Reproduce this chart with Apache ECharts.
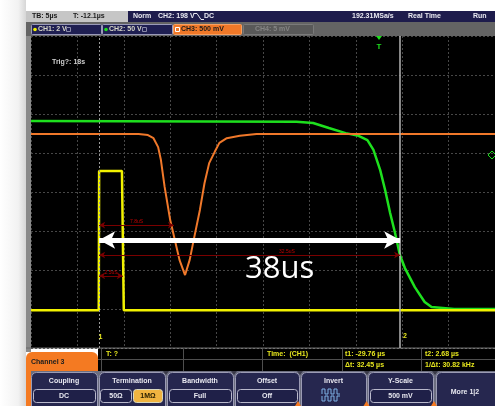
<!DOCTYPE html>
<html><head><meta charset="utf-8">
<script src="https://cdn.jsdelivr.net/npm/echarts@6/dist/echarts.min.js"></script>
<style>html,body{margin:0;padding:0;background:#fff;}#c{width:495px;height:406px;}</style>
</head><body><div id="c"></div>
<script>
// ---- data (time in µs, amplitude in screen divisions from centre) ----
const timeLeft = -37.1;          // time at left edge of screen (T = -12.1 µs centre, 5 µs/div)
const ch1 = [[-37.1,-3.03],[-29.8,-3.03],[-29.76,0.54],[-27.3,0.54],[-27.1,-3.03],[12.9,-3.03]];
const ch2 = [[-37.1,1.82],[-8.5,1.80],[-6.7,1.77],[-5.0,1.64],[-3.2,1.51],[-1.8,1.44],[-0.85,1.33],[-0.2,1.08],
             [0.53,0.56],[1.06,0.05],[1.6,-0.54],[2.13,-1.05],[2.66,-1.62],[3.19,-1.95],[4.26,-2.44],
             [5.32,-2.82],[6.06,-2.95],[8.5,-3.0],[12.9,-3.0]];
const ch3 = [[-37.1,1.49],[-25.5,1.49],[-24.5,1.46],[-23.9,1.38],[-23.4,1.15],[-23.1,0.82],[-22.7,0.13],
             [-22.1,-0.72],[-21.6,-1.23],[-21.1,-1.74],[-20.5,-2.13],[-20.0,-1.74],[-19.5,-1.15],
             [-18.9,-0.46],[-18.4,0.23],[-17.9,0.74],[-17.3,1.03],[-16.8,1.26],[-16.0,1.38],[-14.6,1.44],
             [-12.8,1.49],[12.9,1.49]];
const cursorT1 = -29.76, cursorT2 = 2.68;
const bigArrowLevel = -1.23, bigArrowText = '38us';
const redMeas = [
  {from:-29.76, to:-21.7, level:-0.85, label:'7.8uS'},
  {from:-29.76, to:2.68, level:-1.615, label:''},
  {from:-29.76, to:-27.2, level:-2.15, label:'2.5uS'}
];

const X = t => +(t - timeLeft).toFixed(3);
const map = arr => arr.map(p => [X(p[0]), p[1]]);

const F = 'bold 7px "Liberation Sans", Arial, sans-serif';
function txt(x, y, s, fill, align, font) {
  return {type:'text', x, y, z:20, style:{text:s, fill:fill||'#fff', font:font||F, align:align||'left', verticalAlign:'middle'}};
}
function rect(x, y, w, h, fill, stroke, r, z) {
  return {type:'rect', z:z||1, shape:{x, y, width:w, height:h, r:r||0}, style:{fill, stroke:stroke||null, lineWidth:stroke?1:0}};
}

const g = [];
// left page strip
g.push({type:'rect', z:0, shape:{x:0,y:0,width:26,height:406}, style:{fill:new echarts.graphic.LinearGradient(0,0,1,0,[{offset:0,color:'#ffffff'},{offset:0.7,color:'#f2f2f2'},{offset:1,color:'#d6d6d6'}])}});
g.push(rect(26, 11, 5, 341, '#8a8a8a'));
// header row 1
g.push(rect(26, 11, 102, 11, '#c6c6c6'));
g.push(rect(128, 11, 367, 11, '#1e1c4c'));
g.push(txt(32, 16.5, 'TB: 5µs', '#1a1a1a'));
g.push(txt(73, 16.5, 'T: -12.1µs', '#1a1a1a'));
g.push(txt(133, 16.5, 'Norm', '#e8e8f0'));
g.push(txt(158, 16.5, 'CH2: 198 V', '#e8e8f0'));
g.push({type:'polyline', z:20, shape:{points:[[194,13.5],[197,13.5],[201,19.5],[204,19.5]]}, style:{stroke:'#e8e8f0', lineWidth:1, fill:null}});
g.push(txt(204, 16.5, 'DC', '#e8e8f0'));
g.push(txt(352, 16.5, '192.31MSa/s', '#e8e8f0'));
g.push(txt(408, 16.5, 'Real Time', '#e8e8f0'));
g.push(txt(473, 16.5, 'Run', '#e8e8f0'));
// header row 2 (channel tabs)
g.push(rect(26, 22, 469, 14, '#646464'));
g.push(rect(31.5, 24.5, 70, 10, '#1f1f52', '#9a9ab8', 1, 2));
g.push({type:'circle', z:20, shape:{cx:35, cy:29.5, r:1.8}, style:{fill:'#f2f200'}});
g.push(txt(38, 29.5, 'CH1: 2 V', '#d8d8c8'));
g.push(rect(66.5, 27.5, 4, 4, null, '#8888a8', 0, 20));
g.push(rect(102.5, 24.5, 70, 10, '#1f1f52', '#9a9ab8', 1, 2));
g.push({type:'circle', z:20, shape:{cx:106, cy:29.5, r:1.8}, style:{fill:'#1ee01e'}});
g.push(txt(109, 29.5, 'CH2: 50 V', '#d8d8c8'));
g.push(rect(142.5, 27.5, 4, 4, null, '#8888a8', 0, 20));
g.push(rect(173.5, 24.5, 68, 10, '#f07828', '#f8a060', 1, 2));
g.push(rect(175.5, 27.5, 4, 4, null, '#ffffff', 0, 20));
g.push(txt(181, 29.5, 'CH3: 500 mV', '#1a1a1a'));
g.push(rect(243.5, 24.5, 70, 10, '#595959', '#7a7a7a', 1, 2));
g.push(txt(255, 29.5, 'CH4: 5 mV', '#858585'));
// plot frame line under grid
g.push(rect(26, 347.5, 469, 1, '#6a6a6a', null, 0, 3));
// measurement panel
g.push(rect(98, 348.5, 397, 22.5, '#000000'));
g.push(rect(98, 359, 397, 1, '#4e4e4e', null, 0, 3));
[101, 183, 262, 342, 421].forEach(x => g.push(rect(x, 348.5, 1, 22.5, '#4e4e4e', null, 0, 3)));
g.push(txt(106, 354, 'T: ?', '#e6e61e'));
g.push(txt(267, 354, 'Time:  (CH1)', '#e6e61e'));
g.push(txt(345, 354, 't1: -29.76 µs', '#e6e61e'));
g.push(txt(425, 354, 't2: 2.68 µs', '#e6e61e'));
g.push(txt(345, 365, 'Δt: 32.45 µs', '#e6e61e'));
g.push(txt(425, 365, '1/Δt: 30.82 kHz', '#e6e61e'));
// channel 3 tab + bottom panel
g.push(rect(26, 352, 72, 54, '#f47a22', null, [6,6,0,0], 2));
g.push(txt(31, 362, 'Channel 3', '#202020'));
g.push(rect(31, 371, 464, 35, '#6c6e80', null, 0, 3));
const buttons = [
  {x:31, w:66, title:'Coupling', val:'DC'},
  {x:99, w:66, title:'Termination', val:null},
  {x:167, w:66, title:'Bandwidth', val:'Full'},
  {x:235, w:64, title:'Offset', val:'Off'},
  {x:301, w:65, title:'Invert', val:null},
  {x:368, w:65, title:'Y-Scale', val:'500 mV'},
  {x:436, w:70, title:null, val:null}
];
buttons.forEach(b => {
  g.push(rect(b.x+0.5, 372.5, b.w, 45, '#26274f', '#9b9bb4', 5, 4));
  if (b.title) g.push(txt(b.x + b.w/2, 381, b.title, '#e8e8f0', 'center'));
  if (b.val) {
    g.push(rect(b.x+2.5, 389.5, b.w-4, 13, '#1f2048', '#b9b9cc', 3, 5));
    g.push(txt(b.x + b.w/2, 396.5, b.val, '#e8e8f0', 'center'));
  }
});
g.push(rect(100.5, 389.5, 31, 13, '#1f2048', '#b9b9cc', 3, 5));
g.push(txt(116, 396.5, '50Ω', '#e8e8f0', 'center'));
g.push(rect(133.5, 389.5, 29, 13, '#f0b440', '#d8d8c0', 3, 5));
g.push(txt(148, 396.5, '1MΩ', '#2a2000', 'center'));
g.push(txt(465, 392, 'More 1|2', '#e8e8f0', 'center'));
// invert icon
g.push({type:'polyline', z:20, shape:{points:[[322,394],[322,389],[325,389],[325,394],[328,394],[328,389],[331,389],[331,394],[334,394],[334,389],[337,389],[337,394],[340,394]]}, style:{stroke:'#7fb2e6', lineWidth:1, fill:null}});
g.push({type:'polyline', z:20, shape:{points:[[322,396],[322,401],[325,401],[325,396],[328,396],[328,401],[331,401],[331,396],[334,396],[334,401],[337,401],[337,396],[340,396]]}, style:{stroke:'#7fb2e6', lineWidth:1, fill:null}});
// small triangles
[298, 366.5, 434].forEach(x => g.push({type:'polygon', z:20, shape:{points:[[x-3,406],[x,401],[x+3,406]]}, style:{fill:'#f47a22'}}));
[166, 234, 300, 367, 435].forEach(x => g.push({type:'polygon', z:20, shape:{points:[[x-3,371],[x+3,371],[x,375]]}, style:{fill:'#3a3a48'}}));
// plot texts / markers
g.push(txt(52, 62, 'Trig?: 18s', '#cfcfcf'));
g.push({type:'polygon', z:20, shape:{points:[[376,36],[382,36],[379,40]]}, style:{fill:'#1ee01e'}});
g.push(txt(379, 47, 'T', '#1ee01e', 'center', 'bold 8px "Liberation Sans", Arial, sans-serif'));
g.push({type:'polygon', z:20, shape:{points:[[492,151],[496,155],[492,159],[488,155]]}, style:{fill:null, stroke:'#1ee01e', lineWidth:1}});
g.push(txt(100.5, 337, '1', '#e6e61e', 'center'));
g.push(txt(405, 336, '2', '#e6e61e', 'center'));
g.push(txt(287, 252, '32.5uS', '#c00000', 'center', '5px "Liberation Sans", Arial, sans-serif'));
g.push(txt(245, 269, bigArrowText, '#ffffff', 'left', '31px "Open Sans", sans-serif'));

const redLines = redMeas.map(m => [
  {coord:[X(m.from), m.level], label:{show: !!m.label, formatter: m.label, position:'insideMiddleTop', color:'#c00000', fontSize:5, distance:1}},
  {coord:[X(m.to), m.level]}
]);

const chart = echarts.init(document.getElementById('c'), null, {renderer:'canvas'});
chart.setOption({
  animation:false,
  backgroundColor:'transparent',
  grid:{left:31, top:36, width:470, height:312, show:true, backgroundColor:'#000', borderWidth:0},
  xAxis:{type:'value', min:0, max:50, interval:5, axisLine:{show:false}, axisTick:{show:false}, axisLabel:{show:false},
         splitLine:{show:true, lineStyle:{color:'#474747', type:[2,2], width:1}}},
  yAxis:{type:'value', min:-4, max:4, interval:1, axisLine:{show:false}, axisTick:{show:false}, axisLabel:{show:false},
         splitLine:{show:true, lineStyle:{color:'#474747', type:[2,2], width:1}}},
  graphic: g,
  series:[
    {type:'line', data:[], z:1, silent:true,
     markLine:{silent:true, symbol:'none', animation:false, label:{show:false},
       data:[
         {xAxis:X(cursorT1), lineStyle:{color:'#9a9a9a', type:[2,2], width:1}},
         {xAxis:X(cursorT2), lineStyle:{color:'#b4b4b4', type:'solid', width:1.5}}
       ]}},
    {type:'line', data:map(ch2), z:2, symbol:'none', lineStyle:{color:'#1ee01e', width:2.5}},
    {type:'line', data:map(ch3), z:3, symbol:'none', lineStyle:{color:'#f0782a', width:2}},
    {type:'line', data:map(ch1), z:4, symbol:'none', lineStyle:{color:'#f2f200', width:2.5},
     markLine:{silent:true, animation:false, symbol:['arrow','arrow'], symbolSize:[5,6],
       lineStyle:{color:'#7a0000', width:1, type:'solid'}, label:{show:false},
       data: redLines}},
    {type:'line', data:[], z:6, silent:true,
     markLine:{silent:true, animation:false, symbol:['arrow','arrow'], symbolSize:[13,16],
       lineStyle:{color:'#ffffff', width:5, type:'solid'}, itemStyle:{color:'#ffffff'}, label:{show:false},
       data:[[{coord:[X(cursorT1), bigArrowLevel]},{coord:[X(cursorT2), bigArrowLevel]}]]}}
  ]
});
</script></body></html>
